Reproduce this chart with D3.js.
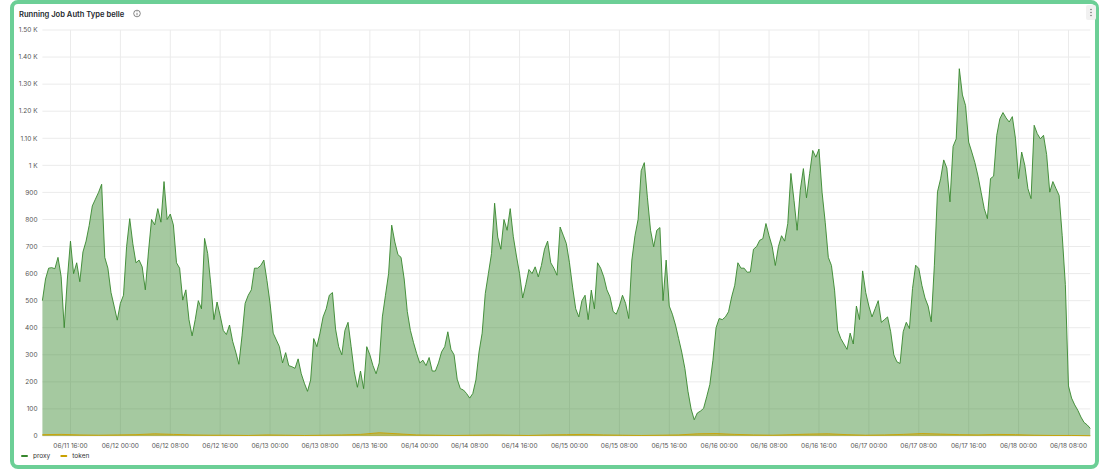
<!DOCTYPE html>
<html>
<head>
<meta charset="utf-8">
<script src="https://cdn.jsdelivr.net/npm/d3@7"></script>
<style>
  body { margin: 0; background: #fff; }
  text { font-family: Inter, "Open Sans", sans-serif; }
</style>
</head>
<body>
<div id="chart"></div>
<script>
(function(){

    const title = "Running Job Auth Type belle";
    const seriesNames = ["proxy", "token"];
    const seriesColors = ["#37872d", "#c9a100"];

    // proxy, one value every 30 min starting 06/11 11:30
    const start = new Date(2024, 5, 11, 11, 30);
    const stepMinutes = 30;
    const proxy = [
        // 06/11 11:30 -> 06/12 11:00
        500, 580, 620, 622, 618, 660, 590, 400, 580, 720, 600, 640, 570, 680, 720, 778,
        850, 875, 900, 930, 660, 620, 530, 480, 428, 490, 520, 700, 803, 710, 640, 650,
        625, 540, 680, 800, 780, 840, 790, 940, 800, 820, 780, 640, 620, 502, 540, 430,
        // 06/12 11:30 -> 06/13 11:00
        370, 430, 500, 470, 730, 674, 560, 430, 495, 445, 390, 375, 410, 350, 310, 265,
        370, 490, 520, 540, 620, 620, 630, 650, 575, 490, 380, 355, 330, 270, 308, 260,
        256, 250, 285, 230, 195, 165, 207, 360, 330, 380, 440, 470, 520, 530, 395, 330,
        // 06/13 11:30 -> 06/14 11:00
        300, 390, 420, 330, 237, 180, 240, 175, 330, 300, 260, 230, 270, 440, 520, 600,
        779, 717, 670, 660, 580, 460, 390, 345, 305, 270, 280, 260, 290, 240, 240, 270,
        311, 330, 385, 320, 300, 210, 175, 170, 157, 140, 157, 207, 310, 380, 526, 600,
        // 06/14 11:30 -> 06/15 11:00
        674, 860, 735, 690, 800, 760, 840, 736, 665, 600, 510, 560, 615, 600, 625, 588,
        630, 690, 720, 640, 620, 594, 772, 742, 711, 640, 550, 470, 440, 500, 520, 430,
        539, 470, 640, 620, 588, 540, 514, 460, 450, 480, 520, 490, 434, 650, 740, 800,
        // 06/15 11:30 -> 06/16 11:00
        980, 1010, 880, 760, 699, 760, 770, 500, 650, 480, 450, 410, 360, 310, 250, 165,
        100, 60, 85, 92, 102, 145, 190, 280, 400, 434, 430, 440, 459, 514, 557, 640,
        620, 620, 605, 606, 690, 700, 723, 729, 785, 740, 700, 630, 700, 740, 720, 785,
        // 06/16 11:30 -> 06/17 11:00
        970, 870, 760, 908, 988, 880, 969, 1055, 1030, 1060, 900, 790, 660, 630, 539, 391,
        360, 340, 320, 380, 340, 480, 430, 610, 530, 480, 440, 470, 500, 420, 430, 440,
        385, 300, 274, 268, 385, 420, 397, 545, 631, 619, 557, 510, 480, 422, 631, 902,
        // 06/17 11:30 -> 06/18 11:30
        950, 1020, 990, 865, 1070, 1098, 1357, 1260, 1221, 1086, 1049, 1010, 960, 900, 840, 803,
        951, 960, 1111, 1172, 1195, 1175, 1160, 1180, 1100, 951, 1049, 1000, 914, 877, 1148, 1117,
        1098, 1111, 1040, 901, 940, 914, 889, 740, 560, 185, 140, 115, 95, 70, 50, 41, 28
    ];

    // token, one value every 3 h starting at the same time
    const tokenStepHours = 3;
    const token = [
        5, 6, 4, 3, 4, 5, 8, 6, 4, 3, 3, 2, 4, 3, 2, 3, 4, 6, 12, 8, 4, 3, 2, 3, 4, 3, 2, 4, 5,
        6, 4, 3, 2, 3, 4, 8, 9, 6, 4, 3, 5, 7, 8, 5, 3, 4, 6, 9, 7, 5, 4, 6, 5, 3, 2, 2, 1
    ];

    const yTicks = [0, 100, 200, 300, 400, 500, 600, 700, 800, 900, 1000, 1100, 1200, 1300, 1400, 1500];
    const yTickLabels = ["0", "100", "200", "300", "400", "500", "600", "700", "800", "900",
        "1 K", "1.10 K", "1.20 K", "1.30 K", "1.40 K", "1.50 K"];

    const width = 1099, height = 470;
    const margin = { left: 42.4, right: 8.7, top: 30, bottom: 34 };

    const proxyData = proxy.map((v, i) => ({ t: d3.timeMinute.offset(start, i * stepMinutes), v: v }));
    const tokenData = token.map((v, i) => ({ t: d3.timeHour.offset(start, i * tokenStepHours), v: v }));

    const svg = d3.select("#chart")
        .append("svg")
        .attr("width", width)
        .attr("height", height);

    // panel
    svg.append("rect")
        .attr("x", 12).attr("y", 2)
        .attr("width", 1085).attr("height", 465)
        .attr("rx", 6)
        .attr("fill", "#fff")
        .attr("stroke", "#6ccf96")
        .attr("stroke-width", 4);

    svg.append("text")
        .attr("x", 19).attr("y", 16.5)
        .attr("font-size", 7.6)
        .attr("font-weight", 600)
        .attr("fill", "#24292e")
        .text(title);

    // info icon
    const info = svg.append("g").attr("transform", "translate(137,13.5)");
    info.append("circle").attr("r", 3.3).attr("fill", "none").attr("stroke", "#555").attr("stroke-width", 0.7);
    info.append("line").attr("x1", 0).attr("x2", 0).attr("y1", -0.6).attr("y2", 1.8).attr("stroke", "#555").attr("stroke-width", 0.7);
    info.append("circle").attr("cx", 0).attr("cy", -1.7).attr("r", 0.45).attr("fill", "#555");

    // menu icon
    const menu = svg.append("g").attr("transform", "translate(1086,5)");
    menu.append("rect").attr("width", 10).attr("height", 15).attr("rx", 2).attr("fill", "#f1f1f1");
    [4.5, 7.5, 10.5].forEach(cy => menu.append("circle").attr("cx", 5).attr("cy", cy).attr("r", 0.8).attr("fill", "#777"));

    const x = d3.scaleTime()
        .domain([start, proxyData[proxyData.length - 1].t])
        .range([margin.left, width - margin.right]);

    const y = d3.scaleLinear()
        .domain([0, 1500])
        .range([height - margin.bottom, margin.top]);

    const xTicks = x.ticks(d3.timeHour.every(8)).filter(d => d.getHours() % 8 === 0);

    // grid
    const grid = svg.append("g");
    grid.selectAll(".hg")
        .data(yTicks)
        .enter()
        .append("line")
        .attr("x1", margin.left).attr("x2", width - margin.right)
        .attr("y1", d => y(d)).attr("y2", d => y(d))
        .attr("stroke", "#ebebeb").attr("stroke-width", 1);
    grid.selectAll(".vg")
        .data(xTicks)
        .enter()
        .append("line")
        .attr("x1", d => x(d)).attr("x2", d => x(d))
        .attr("y1", margin.top).attr("y2", height - margin.bottom)
        .attr("stroke", "#ebebeb").attr("stroke-width", 1);

    // y labels
    svg.append("g").selectAll("text")
        .data(yTicks)
        .enter()
        .append("text")
        .attr("x", 37.5)
        .attr("y", d => y(d))
        .attr("dy", "0.35em")
        .attr("text-anchor", "end")
        .attr("font-size", 6.5)
        .attr("fill", "#555")
        .text((d, i) => yTickLabels[i]);

    // x labels
    const fmt = d3.timeFormat("%m/%d %H:%M");
    svg.append("g").selectAll("text")
        .data(xTicks)
        .enter()
        .append("text")
        .attr("x", d => x(d))
        .attr("y", 447.5)
        .attr("text-anchor", "middle")
        .attr("font-size", 6.5)
        .attr("fill", "#555")
        .text(d => fmt(d));

    const area = d3.area()
        .x(d => x(d.t))
        .y0(y(0))
        .y1(d => y(d.v));
    const line = d3.line()
        .x(d => x(d.t))
        .y(d => y(d.v));

    [proxyData, tokenData].forEach((data, i) => {
        svg.append("path")
            .datum(data)
            .attr("d", area)
            .attr("fill", seriesColors[i])
            .attr("fill-opacity", 0.45);
        svg.append("path")
            .datum(data)
            .attr("d", line)
            .attr("fill", "none")
            .attr("stroke", seriesColors[i])
            .attr("stroke-width", 0.9)
            .attr("stroke-linejoin", "round");
    });

    // legend
    const legend = svg.append("g").attr("transform", "translate(21,456)");
    let lx = 0;
    seriesNames.forEach((name, i) => {
        legend.append("rect")
            .attr("x", lx).attr("y", -1)
            .attr("width", 7).attr("height", 2)
            .attr("rx", 1)
            .attr("fill", seriesColors[i]);
        const t = legend.append("text")
            .attr("x", lx + 12).attr("y", 0)
            .attr("dy", "0.35em")
            .attr("font-size", 6.5)
            .attr("fill", "#333")
            .text(name);
        lx += 12 + t.node().getComputedTextLength() + 10;
    });

})();
</script>
</body>
</html>
